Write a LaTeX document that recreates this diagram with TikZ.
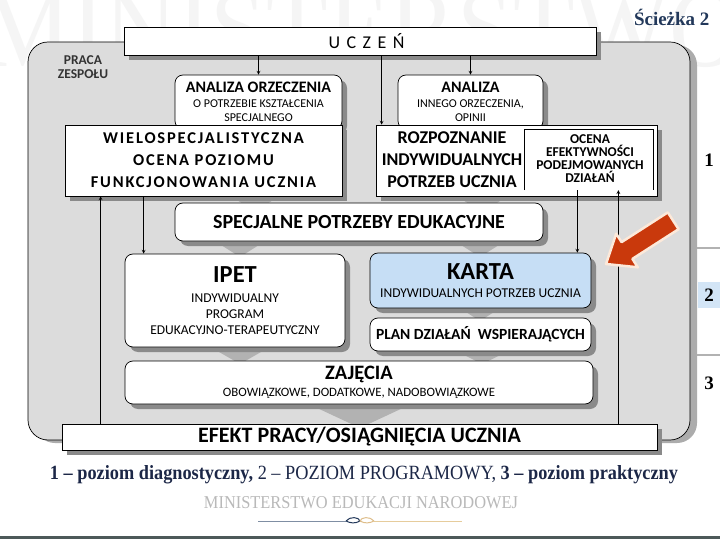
\documentclass[tikz,border=0pt]{standalone}
\usepackage{fontspec}
\setmainfont{Carlito}
\newfontfamily\serifnum[Ligatures=TeX]{Liberation Serif}
\newfontfamily\tracked[LetterSpace=11]{Carlito}
\newfontfamily\widetrack[LetterSpace=36]{Carlito}
\usepackage{graphicx}
\usepackage{tikz}
\usetikzlibrary{positioning,shadows,calc}
\definecolor{PanelGrey}{HTML}{DCDCDC}
\definecolor{ShadowGrey}{HTML}{8A8A8A}
\definecolor{CardBlue}{HTML}{C6DEF5}
\definecolor{LevelBlue}{HTML}{D3E5F6}
\definecolor{ArrowRed}{HTML}{C9390C}
\definecolor{GlowCream}{HTML}{FCE9DA}
\definecolor{TitleNavy}{HTML}{22385A}
\definecolor{CaptionNavy}{HTML}{1C2747}
\definecolor{OrnBlue}{HTML}{7F8EA3}
\definecolor{OrnGold}{HTML}{E6CC9C}
\definecolor{BarSlate}{HTML}{4D5959}

\begin{document}
\begin{tikzpicture}[x=1pt,y=-1pt,>=stealth]
  \tikzstyle{boxshadow}=[drop shadow={shadow xshift=5pt,shadow yshift=-5pt,
    fill=ShadowGrey,opacity=1}]
  \tikzstyle{flatbox}=[draw=black,line width=0.7pt,fill=white,inner sep=0pt,
    align=center,boxshadow]
  \tikzstyle{softbox}=[flatbox,rounded corners=8pt]
  \tikzstyle{wedge}=[fill=gray!60]
  \tikzstyle{link}=[->,line width=0.7pt]
  \tikzstyle{levelnum}=[font=\serifnum\bfseries\fontsize{19}{20}\selectfont,
    inner sep=0pt]

  \clip (0,0) rectangle (720,540);
  \fill[white] (0,0) rectangle (720,540);
  % watermark and title
  \node[text=gray!8,inner sep=0pt] (mark) at (362,30)
    {\resizebox{760pt}{74pt}{\serifnum MINISTERSTWO}};
  \node[font=\serifnum\bfseries\fontsize{19}{20}\selectfont,text=TitleNavy,
    anchor=east] (path) at (713,17) {Ścieżka 2};

  % grey team panel
  \filldraw[fill=PanelGrey,draw=black,line width=0.7pt,rounded corners=20pt,
    drop shadow={shadow xshift=7pt,shadow yshift=-3pt,fill=gray!65,opacity=1}]
    (28,42) rectangle (690,440);
  \node[font=\bfseries\fontsize{13.5}{14}\selectfont,align=center,text=black!80]
    (team) at (83,67) {PRACA\\ZESPOŁU};

  % grey chevrons behind the boxes
  \fill[wedge] (225,192) -- (285,192) -- (255,212) -- cycle;
  \fill[wedge] (450,192) -- (515,192) -- (482,212) -- cycle;
  \fill[wedge] (210,238) -- (270,238) -- (240,257) -- cycle;
  \fill[wedge] (450,238) -- (510,238) -- (480,257) -- cycle;
  \fill[wedge] (205,344) -- (275,344) -- (240,364) -- cycle;
  \fill[wedge] (455,305) -- (505,305) -- (480,321) -- cycle;
  \fill[wedge] (450,348) -- (515,348) -- (482,364) -- cycle;
  \fill[wedge] (300,400) -- (420,400) -- (360,428) -- cycle;

  % boxes
  \node[flatbox,minimum width=472pt,minimum height=28pt,
    font=\widetrack\fontsize{18}{18}\selectfont] (uczen) at (360,41)
    {\hspace{13pt}UCZEŃ};
  \node[softbox,minimum width=167pt,minimum height=54pt,
    font=\fontsize{12}{14}\selectfont] (anlz) at (258.5,102)
    {{\bfseries\fontsize{16}{16}\selectfont ANALIZA ORZECZENIA}\\[1pt]
     O POTRZEBIE KSZTAŁCENIA\\SPECJALNEGO};
  \node[softbox,minimum width=145pt,minimum height=54pt,
    font=\fontsize{12}{14}\selectfont] (anlzb) at (470.5,102)
    {{\bfseries\fontsize{16}{16}\selectfont ANALIZA}\\[1pt]
     INNEGO ORZECZENIA,\\OPINII};
  \node[flatbox,minimum width=277pt,minimum height=71pt,
    font=\tracked\bfseries\fontsize{16.5}{22}\selectfont] (wielo) at (203.5,160.5)
    {WIELOSPECJALISTYCZNA\\OCENA POZIOMU\\FUNKCJONOWANIA UCZNIA};
  \node[flatbox,minimum width=281pt,minimum height=71pt] (rozp) at (516.5,160.5) {};
  \node[font=\bfseries\fontsize{18}{22}\selectfont,align=center,inner sep=0pt]
    (rozptxt) at (452,160) {ROZPOZNANIE\\INDYWIDUALNYCH\\POTRZEB UCZNIA};
  \node[minimum width=128pt,minimum height=60pt,inner sep=0pt] (ocena) at (589,160) {};
  \draw[line width=0.7pt] (ocena.south west) |- (ocena.north east) -- (ocena.south east);
  \node[font=\bfseries\fontsize{13.5}{13}\selectfont,align=center,inner sep=0pt]
    (ocenatxt) at (590,159) {OCENA\\EFEKTYWNOŚCI\\PODEJMOWANYCH\\DZIAŁAŃ};
  \node[softbox,minimum width=368pt,minimum height=38pt,
    font=\bfseries\fontsize{20}{20}\selectfont] (spec) at (359,222)
    {SPECJALNE POTRZEBY EDUKACYJNE};
  \node[softbox,minimum width=220pt,minimum height=93pt,
    font=\fontsize{13.5}{16}\selectfont] (ipet) at (235,300.5)
    {{\bfseries\fontsize{24.5}{24}\selectfont IPET}\\[3.5pt]
     INDYWIDUALNY\\PROGRAM\\EDUKACYJNO-TERAPEUTYCZNY};
  \node[softbox,fill=CardBlue,minimum width=221pt,minimum height=55pt,
    font=\fontsize{13.5}{16}\selectfont] (karta) at (480.5,280.5)
    {{\bfseries\fontsize{24.5}{24}\selectfont KARTA}\\[2.5pt]
     INDYWIDUALNYCH POTRZEB UCZNIA};
  \node[softbox,minimum width=221pt,minimum height=33pt,
    font=\bfseries\fontsize{15.5}{16}\selectfont] (plan) at (480.5,334.5)
    {PLAN DZIAŁAŃ\ \ WSPIERAJĄCYCH};
  \node[softbox,minimum width=468pt,minimum height=43pt,
    font=\fontsize{12.8}{15}\selectfont] (zaj) at (359,382.5)
    {{\bfseries\fontsize{20.5}{20}\selectfont ZAJĘCIA}\\[2.5pt]
     OBOWIĄZKOWE, DODATKOWE, NADOBOWIĄZKOWE};
  \node[flatbox,minimum width=595pt,minimum height=26pt,
    font=\bfseries\fontsize{22}{22}\selectfont] (efekt) at (359.5,437)
    {EFEKT PRACY/OSIĄGNIĘCIA UCZNIA};

  % connectors
  \coordinate (rozpin) at ($(rozp.north west)+(6,0)$);
  \coordinate (ipetin) at ([xshift=19pt]ipet.north west);
  \coordinate (efektout) at ([xshift=39pt]efekt.north west);
  \coordinate (kartain) at ([xshift=-14pt]karta.north east);
  \coordinate (efektback) at ([xshift=-39pt]efekt.north east);
  \draw[link] (uczen.south -| anlz.north) -- (anlz.north);
  \draw[link] (uczen.south -| anlzb.north) -- (anlzb.north);
  \draw[link] (uczen.south -| rozpin) -- (rozpin);
  \draw[link] (wielo.south -| ipetin) -- (ipetin);
  \draw[link] (efektout) -- (efektout |- wielo.south);
  \draw[link] (ocena.south -| kartain) -- (kartain);
  \draw[link] (efektback) -- (efektback |- ocena.south);

  % red pointer
  \filldraw[fill=ArrowRed,draw=GlowCream,line width=2.5pt,line join=round]
    (606,264) -- (616.2,233.7) -- (621.6,242.1) -- (667.8,212.4)
    -- (678.6,229.2) -- (632.4,258.9) -- (637.8,267.3) -- cycle;

  % levels
  \draw[gray!60,line width=2pt] (697,248) -- (720,248);
  \draw[gray!60,line width=2pt] (697,355) -- (720,355);
  \node[levelnum] (lvl1) at (709,160) {1};
  \node[levelnum,fill=LevelBlue,minimum width=23pt,minimum height=26pt]
    (lvl2) at (709,295) {2};
  \node[levelnum] (lvl3) at (709,383) {3};

  % caption and footer
  \node[text=CaptionNavy,inner sep=0pt] (caption) at (364,475)
    {\resizebox{628pt}{14pt}{\serifnum\bfseries 1 – poziom diagnostyczny,
     \mdseries 2 – POZIOM PROGRAMOWY, \bfseries 3 – poziom praktyczny}};
  \node[text=gray!55,inner sep=0pt] (ministry) at (361,503)
    {\resizebox{314pt}{12pt}{\serifnum MINISTERSTWO EDUKACJI NARODOWEJ}};
  \draw[OrnBlue,line width=0.8pt] (258,521) -- (346,521);
  \draw[OrnGold,line width=0.8pt] (374,521) -- (462,521);
  \draw[TitleNavy,line width=1pt] (346,521) .. controls (350,516) and (359,517) .. (360,521)
    .. controls (355,524) and (350,523) .. (346,521);
  \draw[OrnGold!80!brown,line width=1pt] (374,521) .. controls (370,516) and (361,517) .. (360,521)
    .. controls (365,524) and (370,523) .. (374,521);
  \fill[BarSlate] (0,536) rectangle (720,538.5);
\end{tikzpicture}
\end{document}
